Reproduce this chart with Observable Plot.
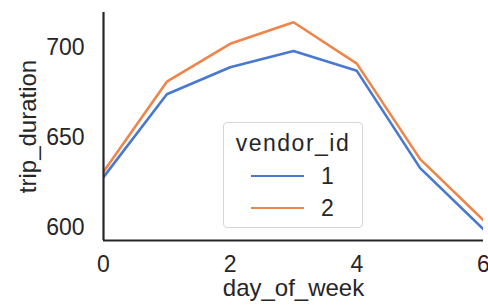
<!DOCTYPE html>
<html>
<head>
<meta charset="utf-8">
<script src="https://cdn.jsdelivr.net/npm/d3@7"></script>
<script src="https://cdn.jsdelivr.net/npm/@observablehq/plot@0.6"></script>
<style>
  html, body { margin: 0; padding: 0; background: #fff; }
  #wrap { position: relative; width: 488px; height: 305px; overflow: hidden; font-family: "Liberation Sans", Arial, sans-serif; }
  #legend { position: absolute; left: 223px; top: 122px; width: 140px; height: 106px; border: 1px solid #d6d6d6; border-radius: 4px; background: rgba(255,255,255,0.8); box-sizing: border-box; color: #262626; }
  #legend .title { position: absolute; left: 0; width: 100%; top: 6px; text-align: center; font-size: 23px; letter-spacing: 1.5px; line-height: 28px; }
  #legend .row { position: absolute; left: 27px; height: 28px; }
  #legend .sw { position: absolute; left: 0; top: 13px; width: 53px; height: 0; border-top: 2.6px solid; }
  #legend .lab { position: absolute; left: 70px; top: 0; font-size: 23px; line-height: 28px; }
</style>
</head>
<body>
<div id="wrap"><div id="chart"></div><div id="legend"></div></div>
<script>
const days = [0, 1, 2, 3, 4, 5, 6];
const vendors = ["1", "2"];
const vendor1 = [628, 674, 689, 698, 687, 633, 599];
const vendor2 = [631, 681, 702, 714, 691, 638, 604];
const colors = ["#4878d0", "#ee854a"];
const yTicks = [600, 650, 700];
const xTicks = [0, 2, 4, 6];

const rows = [];
days.forEach((d, i) => {
  rows.push({day: d, vendor: vendors[0], v: vendor1[i]});
  rows.push({day: d, vendor: vendors[1], v: vendor2[i]});
});

const yDom = [592.8, 719.4];
const ink = "#262626";

const plot = Plot.plot({
  width: 488,
  height: 305,
  marginLeft: 103,
  marginRight: 5,
  marginTop: 12,
  marginBottom: 65,
  style: {fontFamily: "'Liberation Sans', Arial, sans-serif", fontSize: "23px", color: ink, background: "transparent"},
  x: {domain: [0, 6]},
  y: {domain: yDom},
  color: {domain: vendors, range: colors},
  marks: [
    Plot.axisY({ticks: yTicks, tickFormat: "d", tickSize: 0, tickPadding: 19, fontSize: 23, label: null}),
    Plot.axisX({ticks: xTicks, tickFormat: "d", tickSize: 0, tickPadding: 15, fontSize: 23, label: null}),
    Plot.text(["trip_duration"], {frameAnchor: "left", textAnchor: "middle", rotate: -90, dx: -75, fontSize: 24, fill: ink, letterSpacing: 1}),
    Plot.text(["day_of_week"], {frameAnchor: "bottom", textAnchor: "middle", dy: 55, fontSize: 24, fill: ink, letterSpacing: 1.6}),
    Plot.line(rows, {x: "day", y: "v", stroke: "vendor", strokeWidth: 2.6, strokeLinejoin: "miter", clip: true}),
    Plot.ruleX([0], {stroke: ink, strokeWidth: 2.2}),
    Plot.ruleY([yDom[0]], {stroke: ink, strokeWidth: 2.2})
  ]
});
document.getElementById("chart").appendChild(plot);

const leg = document.getElementById("legend");
const t = document.createElement("div");
t.className = "title"; t.textContent = "vendor_id";
leg.appendChild(t);
vendors.forEach((v, i) => {
  const r = document.createElement("div");
  r.className = "row"; r.style.top = (39 + i * 32) + "px";
  const sw = document.createElement("div");
  sw.className = "sw"; sw.style.borderTopColor = colors[i];
  const lab = document.createElement("div");
  lab.className = "lab"; lab.textContent = v;
  r.appendChild(sw); r.appendChild(lab);
  leg.appendChild(r);
});
</script>
</body>
</html>
